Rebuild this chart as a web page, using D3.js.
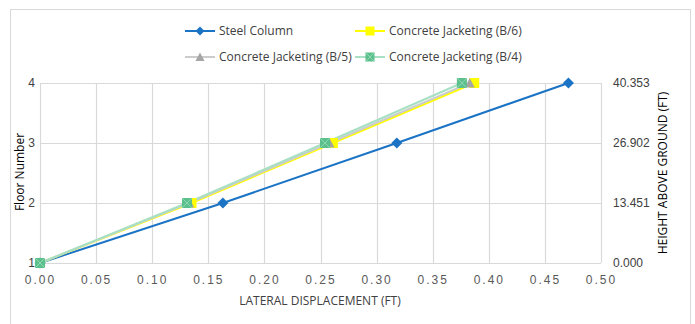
<!DOCTYPE html>
<html><head><meta charset="utf-8">
<script src="https://cdn.jsdelivr.net/npm/d3@7"></script>
<style>body{margin:0;background:#fff;font-family:"Open Sans",Lato,sans-serif;}</style>
</head><body><svg id="c" width="695" height="324"></svg>
<script>
const floors = [1, 2, 3, 4];
const steelColumn = [0, 0.163, 0.318, 0.471];
const jacketB6 = [0, 0.135, 0.261, 0.387];
const jacketB5 = [0, 0.133, 0.258, 0.383];
const jacketB4 = [0, 0.131, 0.254, 0.376];
const xTicks = [0, 0.05, 0.1, 0.15, 0.2, 0.25, 0.3, 0.35, 0.4, 0.45, 0.5];
const leftTicks = [1, 2, 3, 4];
const rightTicks = [0, 13.451, 26.902, 40.353];

const series = [
  {name: "Steel Column", x: steelColumn, color: "#1a73c4", line: "#1a73c4", marker: "diamond"},
  {name: "Concrete Jacketing (B/6)", x: jacketB6, color: "#ffff00", line: "#ffff00", marker: "square"},
  {name: "Concrete Jacketing (B/5)", x: jacketB5, color: "#a5a5a5", line: "#cccccc", marker: "triangle"},
  {name: "Concrete Jacketing (B/4)", x: jacketB4, color: "#5cc08c", line: "#a8e0c4", marker: "xsquare"}
];

const svg = d3.select("#c");
svg.append("rect").attr("x", 10.5).attr("y", 9.5).attr("width", 680).attr("height", 320).attr("fill", "#fff").attr("stroke", "#d9d9d9");

const L = 40, R = 601, T = 83, B = 263;
const x = d3.scaleLinear().domain([0, 0.5]).range([L, R]);
const y = d3.scaleLinear().domain([1, 4]).range([B, T]);
const y2 = d3.scaleLinear().domain([0, 40.353]).range([B, T]);

// grid
const g = svg.append("g");
g.selectAll(".vx").data(xTicks).join("line").attr("x1", d => Math.round(x(d)) + 0.5).attr("x2", d => Math.round(x(d)) + 0.5)
  .attr("y1", T).attr("y2", B).attr("stroke", "#d9d9d9").attr("stroke-width", 1.2);
g.selectAll(".hy").data(leftTicks).join("line").attr("x1", L).attr("x2", R).attr("y1", d => Math.round(y(d)) + 0.5).attr("y2", d => Math.round(y(d)) + 0.5)
  .attr("stroke", "#d9d9d9").attr("stroke-width", 1.2);

// axes
const xAxis = svg.append("g").attr("transform", `translate(0,${B})`).call(d3.axisBottom(x).tickValues(xTicks).tickFormat(d3.format(".2f")).tickSize(0).tickPadding(12));
xAxis.select(".domain").remove();
xAxis.selectAll("text").attr("fill", "#595959").style("font-size", "12px").style("letter-spacing", "2px").attr("font-family", "Liberation Sans, sans-serif");

const yAxis = svg.append("g").attr("transform", `translate(${L},0)`).call(d3.axisLeft(y).tickValues(leftTicks).tickFormat(d3.format("d")).tickSize(0).tickPadding(5));
yAxis.select(".domain").remove();
yAxis.selectAll("text").attr("fill", "#404040").style("font-size", "12px");

const y2Axis = svg.append("g").attr("transform", `translate(${R},0)`).call(d3.axisRight(y2).tickValues(rightTicks).tickFormat(d3.format(".3f")).tickSize(0).tickPadding(12));
y2Axis.select(".domain").remove();
y2Axis.selectAll("text").attr("fill", "#404040").style("font-size", "12px");

// axis titles
svg.append("text").attr("transform", "translate(24,172) rotate(-90)").attr("text-anchor", "middle").attr("fill", "#000").style("font-size", "12px").text("Floor Number");
svg.append("text").attr("transform", "translate(667,173) rotate(-90)").attr("text-anchor", "middle").attr("fill", "#000").style("font-size", "12px").text("HEIGHT ABOVE GROUND (FT)");
svg.append("text").attr("x", 320).attr("y", 305).attr("text-anchor", "middle").attr("fill", "#404040").style("font-size", "12px").text("LATERAL DISPLACEMENT (FT)");

function marker(sel, type, color, s) {
  if (type === "diamond") {
    sel.append("path").attr("d", `M0,${-s}L${s},0L0,${s}L${-s},0Z`).attr("fill", color);
  } else if (type === "square") {
    sel.append("rect").attr("x", -s).attr("y", -s).attr("width", 2*s).attr("height", 2*s).attr("fill", color);
  } else if (type === "triangle") {
    sel.append("path").attr("d", `M0,${-s}L${s},${s*0.9}L${-s},${s*0.9}Z`).attr("fill", color);
  } else {
    sel.append("rect").attr("x", -s).attr("y", -s).attr("width", 2*s).attr("height", 2*s).attr("fill", color);
    sel.append("path").attr("d", `M${-s},${-s}L${s},${s}M${s},${-s}L${-s},${s}`).attr("stroke", "#8fd8b4").attr("stroke-width", 1);
  }
}

const line = d3.line().x(d => x(d[0])).y(d => y(d[1]));
series.forEach(s => {
  const pts = s.x.map((v, i) => [v, floors[i]]);
  svg.append("path").datum(pts).attr("d", line).attr("fill", "none").attr("stroke", s.line).attr("stroke-width", 2);
});
series.forEach(s => {
  const pts = s.x.map((v, i) => [v, floors[i]]);
  pts.forEach(p => {
    const gg = svg.append("g").attr("transform", `translate(${x(p[0])},${y(p[1])})`);
    marker(gg, s.marker, s.color, s.marker === "diamond" ? 5.5 : 5);
  });
});

// legend
const legPos = [[185, 31], [355, 31], [185, 57], [355, 57]];
series.forEach((s, i) => {
  const [lx, ly] = legPos[i];
  svg.append("line").attr("x1", lx).attr("x2", lx + 30).attr("y1", ly).attr("y2", ly).attr("stroke", s.line).attr("stroke-width", 2);
  const gg = svg.append("g").attr("transform", `translate(${lx + 15},${ly})`);
  marker(gg, s.marker, s.color, 4.5);
  svg.append("text").attr("x", lx + 34).attr("y", ly + 4).attr("fill", "#404040").style("font-size", "12px").text(s.name);
});
</script></body></html>
